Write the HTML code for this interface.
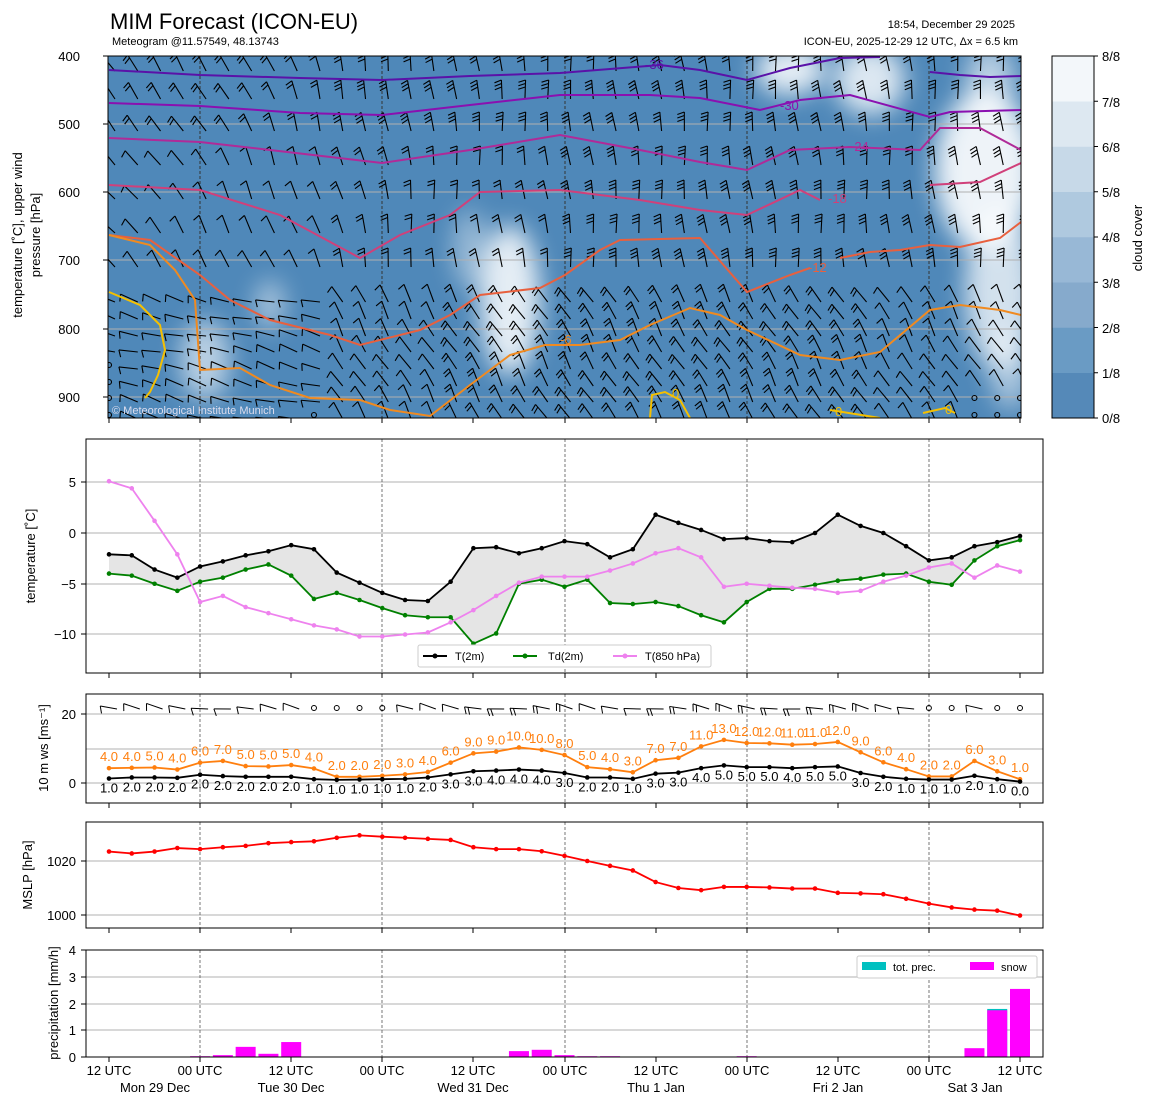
<!DOCTYPE html>
<html><head><meta charset="utf-8">
<style>
body{margin:0;background:#fff;}
svg{display:block;font-family:"Liberation Sans","DejaVu Sans",sans-serif;}
.t{font-size:13px;fill:#000}
</style></head><body>
<svg id="s" width="1155" height="1105" viewBox="0 0 1155 1105" xmlns="http://www.w3.org/2000/svg">
<defs>
<clipPath id="c1"><rect x="108" y="56" width="913" height="362"/></clipPath>
<filter id="bl" x="-50%" y="-50%" width="200%" height="200%"><feGaussianBlur stdDeviation="12"/></filter>
</defs>
<rect width="1155" height="1105" fill="#fff"/>
<text x="110" y="29" font-size="22">MIM Forecast (ICON-EU)</text>
<text x="112" y="45" font-size="11">Meteogram @11.57549, 48.13743</text>
<text x="1015" y="28" font-size="11" text-anchor="end">18:54, December 29 2025</text>
<text x="1018" y="45" font-size="11" text-anchor="end">ICON-EU, 2025-12-29 12 UTC, Δx = 6.5 km</text>

<!-- top panel -->
<g clip-path="url(#c1)">
<rect x="108" y="56" width="913" height="362" fill="#4f88b9"/>
<g filter="url(#bl)" fill="#fff">
<ellipse cx="205" cy="360" rx="25" ry="40" opacity="0.6"/>
<ellipse cx="270" cy="305" rx="15" ry="25" opacity="0.5"/>
<ellipse cx="510" cy="300" rx="30" ry="75" opacity="0.85"/>
<ellipse cx="470" cy="250" rx="18" ry="40" opacity="0.4"/>
<ellipse cx="790" cy="70" rx="35" ry="25" opacity="0.85"/>
<ellipse cx="870" cy="80" rx="35" ry="35" opacity="0.8"/>
<ellipse cx="990" cy="80" rx="25" ry="35" opacity="0.6"/>
<ellipse cx="985" cy="170" rx="50" ry="80" opacity="0.9"/>
<ellipse cx="1000" cy="290" rx="35" ry="80" opacity="0.75"/>
<ellipse cx="1010" cy="370" rx="20" ry="40" opacity="0.5"/>
</g>
<g stroke="#b0b0b0" stroke-width="1">
<line x1="108" y1="124" x2="1021" y2="124"/><line x1="108" y1="192" x2="1021" y2="192"/>
<line x1="108" y1="260" x2="1021" y2="260"/><line x1="108" y1="329" x2="1021" y2="329"/><line x1="108" y1="397" x2="1021" y2="397"/>
</g>
<g id="vl1" stroke="#333" stroke-dasharray="3,2" stroke-width="1"></g>
<g id="barbs" stroke="#000" stroke-width="1.1" fill="none"></g>
<g fill="none" stroke-width="2">
<polyline stroke="#5a12a8" points="109,70 200,75 300,78 382,80 470,76 560,73 660,65 700,70 747,80 790,68 840,58 880,57"/>
<polyline stroke="#5a12a8" points="930,72 960,75 990,77 1021,76"/>
<polyline stroke="#8a10b0" points="109,103 200,106 300,113 382,115 470,105 560,95 650,95 700,98 760,110 800,100 850,95 930,117 950,112 1021,110"/>
<polyline stroke="#b02a98" points="109,138 200,142 270,150 382,163 470,150 560,135 640,150 700,162 747,170 790,150 850,147 920,150 940,128 980,128 1021,150"/>
<polyline stroke="#d0407a" points="109,185 200,190 280,215 360,258 400,235 450,215 480,192 560,190 640,200 700,210 747,215 800,190 820,200"/>
<polyline stroke="#d0407a" points="930,185 980,182 1021,163"/>
<polyline stroke="#e8603e" points="109,235 150,240 200,275 230,300 270,320 330,335 360,345 420,330 450,315 480,295 540,288 565,275 600,250 620,240 700,238 747,292 790,275 810,268"/>
<polyline stroke="#e8603e" points="840,258 870,252 900,250 930,245 960,247 1000,238 1021,222"/>
<polyline stroke="#f08a20" points="109,235 150,245 175,270 195,300 200,370 240,368 270,385 310,398 360,400 390,410 430,416 470,385 510,355 545,345 580,345 620,340 650,325 690,308 720,315 747,330 800,355 840,360 880,352 930,310 960,305 1000,310 1021,315"/>
<polyline stroke="#f5c000" points="109,292 140,305 160,325 165,350 158,375 150,392 145,398"/>
<polyline stroke="#f5c000" points="650,418 652,395 665,392 680,400 690,418"/>
<polyline stroke="#f5c000" points="830,410 880,418"/>
<polyline stroke="#f5c000" points="923,413 945,408 955,413"/>
</g>
<g font-size="13">
<text x="645" y="69" fill="#5a12a8">-36</text>
<text x="780" y="110" fill="#8a10b0">-30</text>
<text x="850" y="151" fill="#b02a98">-24</text>
<text x="828" y="203" fill="#d0407a">-18</text>
<text x="808" y="272" fill="#e8603e">-12</text>
<text x="560" y="344" fill="#f08a20">-6</text>
<text x="672" y="398" fill="#f5c000">0</text>
<text x="835" y="416" fill="#f5c000">0</text>
<text x="945" y="414" fill="#f5c000">0</text>
</g>
<text x="112" y="414" font-size="11" fill="#dde">© Meteorological Institute Munich</text>
</g>
<rect x="108" y="56" width="913" height="362" fill="none" stroke="#000"/>
<g class="t" text-anchor="end">
<text x="80" y="61">400</text><text x="80" y="129">500</text><text x="80" y="197">600</text>
<text x="80" y="265">700</text><text x="80" y="334">800</text><text x="80" y="402">900</text>
</g>
<g stroke="#000"><line x1="103" y1="56" x2="108" y2="56"/><line x1="103" y1="124" x2="108" y2="124"/><line x1="103" y1="192" x2="108" y2="192"/><line x1="103" y1="260" x2="108" y2="260"/><line x1="103" y1="329" x2="108" y2="329"/><line x1="103" y1="397" x2="108" y2="397"/></g>
<text transform="translate(22,235) rotate(-90)" text-anchor="middle" class="t">temperature [˚C], upper wind</text>
<text transform="translate(40,235) rotate(-90)" text-anchor="middle" class="t">pressure [hPa]</text>
<!-- colorbar -->
<g id="cb"></g>
<rect x="1052" y="56" width="42" height="362" fill="none" stroke="#000"/>
<g class="t">
<text x="1102" y="61">8/8</text><text x="1102" y="107">7/8</text><text x="1102" y="152">6/8</text><text x="1102" y="197">5/8</text>
<text x="1102" y="242">4/8</text><text x="1102" y="288">3/8</text><text x="1102" y="333">2/8</text><text x="1102" y="378">1/8</text><text x="1102" y="423">0/8</text>
</g>
<g stroke="#000" id="cbt"></g>
<text transform="translate(1142,238) rotate(-90)" text-anchor="middle" class="t">cloud cover</text>

<!-- panel 2 -->
<g stroke="#b0b0b0"><line x1="86" y1="482" x2="1043" y2="482"/><line x1="86" y1="533" x2="1043" y2="533"/><line x1="86" y1="584" x2="1043" y2="584"/><line x1="86" y1="634" x2="1043" y2="634"/></g>
<g id="p2"></g>
<rect x="86" y="439" width="957" height="234" fill="none" stroke="#000"/>
<g class="t" text-anchor="end"><text x="76" y="487">5</text><text x="76" y="538">0</text><text x="76" y="589">−5</text><text x="76" y="639">−10</text></g>
<g stroke="#000"><line x1="81" y1="482" x2="86" y2="482"/><line x1="81" y1="533" x2="86" y2="533"/><line x1="81" y1="584" x2="86" y2="584"/><line x1="81" y1="634" x2="86" y2="634"/></g>
<text transform="translate(35,556) rotate(-90)" text-anchor="middle" class="t">temperature [˚C]</text>
<g font-size="11">
<rect x="418" y="645" width="293" height="22" fill="#fff" stroke="#ccc" rx="2"/>
<line x1="423" y1="656" x2="447" y2="656" stroke="#000" stroke-width="2"/><circle cx="435" cy="656" r="2.5"/>
<text x="455" y="660">T(2m)</text>
<line x1="513" y1="656" x2="537" y2="656" stroke="green" stroke-width="2"/><circle cx="525" cy="656" r="2.5" fill="green"/>
<text x="548" y="660">Td(2m)</text>
<line x1="613" y1="656" x2="637" y2="656" stroke="violet" stroke-width="2"/><circle cx="625" cy="656" r="2.5" fill="violet"/>
<text x="645" y="660">T(850 hPa)</text>
</g>

<!-- panel 3 -->
<g stroke="#b0b0b0"><line x1="86" y1="714" x2="1043" y2="714"/><line x1="86" y1="749" x2="1043" y2="749"/><line x1="86" y1="783" x2="1043" y2="783"/></g>
<g id="p3"></g>
<rect x="86" y="694" width="957" height="109" fill="none" stroke="#000"/>
<g class="t" text-anchor="end"><text x="76" y="719">20</text><text x="76" y="788">0</text></g>
<g stroke="#000"><line x1="81" y1="714" x2="86" y2="714"/><line x1="81" y1="783" x2="86" y2="783"/></g>
<text transform="translate(48,748) rotate(-90)" text-anchor="middle" class="t">10 m ws [ms⁻¹]</text>

<!-- panel 4 -->
<g stroke="#b0b0b0"><line x1="86" y1="861" x2="1043" y2="861"/><line x1="86" y1="915" x2="1043" y2="915"/></g>
<g id="p4"></g>
<rect x="86" y="822" width="957" height="106" fill="none" stroke="#000"/>
<g class="t" text-anchor="end"><text x="76" y="866">1020</text><text x="76" y="920">1000</text></g>
<g stroke="#000"><line x1="81" y1="861" x2="86" y2="861"/><line x1="81" y1="915" x2="86" y2="915"/></g>
<text transform="translate(32,875) rotate(-90)" text-anchor="middle" class="t">MSLP [hPa]</text>

<!-- panel 5 -->
<g stroke="#b0b0b0"><line x1="86" y1="977" x2="1043" y2="977"/><line x1="86" y1="1004" x2="1043" y2="1004"/><line x1="86" y1="1030" x2="1043" y2="1030"/></g>
<g id="p5"></g>
<rect x="86" y="950" width="957" height="107" fill="none" stroke="#000"/>
<g class="t" text-anchor="end"><text x="76" y="955">4</text><text x="76" y="982">3</text><text x="76" y="1009">2</text><text x="76" y="1035">1</text><text x="76" y="1062">0</text></g>
<g stroke="#000"><line x1="81" y1="950" x2="86" y2="950"/><line x1="81" y1="977" x2="86" y2="977"/><line x1="81" y1="1004" x2="86" y2="1004"/><line x1="81" y1="1030" x2="86" y2="1030"/><line x1="81" y1="1057" x2="86" y2="1057"/></g>
<text transform="translate(58,1003) rotate(-90)" text-anchor="middle" class="t">precipitation [mm/h]</text>
<g font-size="11">
<rect x="857" y="956" width="180" height="22" fill="#fff" stroke="#ccc" rx="2"/>
<rect x="862" y="962" width="24" height="8" fill="#00c0c0"/><text x="893" y="971">tot. prec.</text>
<rect x="970" y="962" width="24" height="8" fill="#ff00ff"/><text x="1001" y="971">snow</text>
</g>
<g class="t" text-anchor="middle">
<text x="109" y="1075">12 UTC</text><text x="200" y="1075">00 UTC</text><text x="291" y="1075">12 UTC</text><text x="382" y="1075">00 UTC</text>
<text x="473" y="1075">12 UTC</text><text x="565" y="1075">00 UTC</text><text x="656" y="1075">12 UTC</text><text x="747" y="1075">00 UTC</text>
<text x="838" y="1075">12 UTC</text><text x="929" y="1075">00 UTC</text><text x="1020" y="1075">12 UTC</text>
<text x="155" y="1092">Mon 29 Dec</text><text x="291" y="1092">Tue 30 Dec</text><text x="473" y="1092">Wed 31 Dec</text>
<text x="656" y="1092">Thu 1 Jan</text><text x="838" y="1092">Fri 2 Jan</text><text x="975" y="1092">Sat 3 Jan</text>
</g>
<g id="ticks" stroke="#000"></g>
</svg>
<script>
var NS="http://www.w3.org/2000/svg";
function el(p,n,a){var e=document.createElementNS(NS,n);for(var k in a)e.setAttribute(k,a[k]);p.appendChild(e);return e;}
function X(i){return 109+i*22.775;}
var g=function(id){return document.getElementById(id);};
// colorbar
var cols=["#5589b8","#6a9bc4","#86aacc","#98b8d6","#afc9df","#c7d9e8","#dde8f1","#f3f7fa"];
for(var i=0;i<8;i++)el(g("cb"),"rect",{x:1052,y:418-(i+1)*45.25,width:42,height:45.5,fill:cols[i]});
for(var i=0;i<=8;i++)el(g("cbt"),"line",{x1:1094,y1:418-i*45.25,x2:1098,y2:418-i*45.25});
var vx=[200,382,565,747,929];
vx.forEach(function(x){
 el(g("vl1"),"line",{x1:x,y1:56,x2:x,y2:418});
 [["p2",439,673],["p3",694,803],["p4",822,928],["p5",950,1057]].forEach(function(r){el(g(r[0]),"line",{x1:x,y1:r[1],x2:x,y2:r[2],stroke:"#555","stroke-width":0.8,"stroke-dasharray":"3,2"});});
});
[109,200,291,382,473,565,656,747,838,929,1020].forEach(function(x){
 [418,673,803,928,1057].forEach(function(y){el(g("ticks"),"line",{x1:x,y1:y,x2:x,y2:y+5});});
});
// barb: base (x,y), angle a (deg clockwise from up) of staff toward tip, n ticks
function barb(p,x,y,a,n,len){
 var r=a*Math.PI/180, dx=Math.sin(r), dy=-Math.cos(r);
 var tx=x+dx*len,ty=y+dy*len;
 el(p,"line",{x1:x,y1:y,x2:tx,y2:ty});
 var px=dy,py=-dx; // counterclockwise perpendicular
 for(var k=0;k<n;k++){
  var bx=tx-dx*k*3.5,by=ty-dy*k*3.5;
  el(p,"line",{x1:bx,y1:by,x2:bx+px*7-dx*2.5,y2:by+py*7-dy*2.5});
 }
}
var rows=[62,90,122,156,190,224,258,293,310,327,343,360,377,393,410];
var bg=g("barbs");
for(var r=0;r<rows.length;r++){
 for(var i=0;i<41;i++){
  var y=rows[r], x=X(i)+6;
  var low=y>280;
  if(low&&((i==0&&y>=360)||(i>=38&&y>=393)||(i==9&&y>=410))){el(bg,"circle",{cx:X(i),cy:y+5,r:2.5});continue;}
  var a,n;
  if(!low){
   var f=i/40;
   a=-40+35*Math.min(1,f*3)+8*Math.sin(i*0.7+r);
   n=1+Math.min(2,Math.floor(f*4+ (r<3?1:0)));
  } else {
   a=(i<10?-75:-30)+10*Math.sin(i*0.5+r);
   n=1+(i>14&&i<34?1:0);
  }
  barb(bg,x,y+9,a,n,19);
 }
}
function line(p,xs,ys,col,r){
 var pts=xs.map(function(x,i){return x+","+ys[i];}).join(" ");
 el(p,"polyline",{points:pts,fill:"none",stroke:col,"stroke-width":1.8});
 xs.forEach(function(x,i){el(p,"circle",{cx:x,cy:ys[i],r:r||2.3,fill:col});});
}
var T=[-2.1,-2.2,-3.6,-4.4,-3.3,-2.8,-2.2,-1.8,-1.2,-1.6,-3.9,-4.9,-5.9,-6.6,-6.7,-4.8,-1.5,-1.4,-2.0,-1.5,-0.8,-1.1,-2.4,-1.6,1.8,1.0,0.3,-0.6,-0.5,-0.8,-0.9,0.0,1.8,0.7,0.0,-1.3,-2.7,-2.4,-1.3,-0.9,-0.3];
var Td=[-4.0,-4.2,-5.0,-5.7,-4.8,-4.4,-3.6,-3.1,-4.2,-6.5,-5.9,-6.6,-7.4,-8.1,-8.3,-8.3,-10.9,-9.9,-5.0,-4.6,-5.3,-4.6,-6.9,-7.0,-6.8,-7.2,-8.1,-8.8,-6.8,-5.5,-5.5,-5.1,-4.7,-4.5,-4.1,-4.0,-4.8,-5.1,-2.7,-1.3,-0.7];
var T8=[5.1,4.4,1.2,-2.1,-6.8,-6.2,-7.3,-7.9,-8.5,-9.1,-9.5,-10.2,-10.2,-10.0,-9.8,-8.8,-7.6,-6.2,-4.9,-4.3,-4.3,-4.3,-3.7,-3.0,-2.0,-1.5,-2.4,-5.3,-5.0,-5.2,-5.4,-5.5,-5.9,-5.7,-4.8,-4.2,-3.4,-3.0,-4.4,-3.2,-3.8];
var xs=T.map(function(_,i){return X(i);});
function Y2(v){return 533-10.15*v;}
var poly=xs.map(function(x,i){return x+","+Y2(T[i]);}).concat(xs.slice().reverse().map(function(x,j){var i=40-j;return x+","+Y2(Td[i]);})).join(" ");
el(g("p2"),"polygon",{points:poly,fill:"#e5e5e5",stroke:"none"});
line(g("p2"),xs,T.map(Y2),"#000");
line(g("p2"),xs,Td.map(Y2),"green");
line(g("p2"),xs,T8.map(Y2),"violet");
var G=[4.3,4.4,4.5,3.9,5.9,6.4,4.9,4.8,5.2,4.2,1.8,1.8,2.1,2.5,3.2,5.9,8.6,9.1,10.3,9.6,8.1,4.6,4.0,3.1,6.6,7.3,10.6,12.5,11.6,11.5,11.1,11.3,11.9,8.9,6.0,4.0,1.9,1.9,6.4,3.4,1.1];
var W=[1.3,1.6,1.6,1.5,2.4,2.0,1.8,1.8,1.8,1.1,0.9,1.0,1.1,1.2,1.6,2.5,3.4,3.6,3.9,3.6,2.9,1.6,1.6,1.2,2.7,3.0,4.3,5.1,4.6,4.6,4.3,4.6,4.8,2.9,1.8,1.2,1.0,1.0,2.1,1.1,0.4];
var GL=[4,4,5,4,6,7,5,5,5,4,2,2,2,3,4,6,9,9,10,10,8,5,4,3,7,7,11,13,12,12,11,11,12,9,6,4,2,2,6,3,1];
var WL=[1,2,2,2,2,2,2,2,2,1,1,1,1,1,2,3,3,4,4,4,3,2,2,1,3,3,4,5,5,5,4,5,5,3,2,1,1,1,2,1,0];
function Y3(v){return 783-3.45*v;}
var p3=g("p3");
line(p3,xs,G.map(Y3),"#ff7f0e");
line(p3,xs,W.map(Y3),"#000");
xs.forEach(function(x,i){
 var t=el(p3,"text",{x:x,y:Y3(G[i])-7,"text-anchor":"middle","font-size":13,fill:"#ff7f0e"});t.textContent=GL[i].toFixed(1);
 var t2=el(p3,"text",{x:x,y:Y3(W[i])+14,"text-anchor":"middle","font-size":13,fill:"#000"});t2.textContent=WL[i].toFixed(1);
 var gb=el(p3,"g",{stroke:"#000","stroke-width":1,fill:"none"});
 if(W[i]<1.15&&i>8){el(gb,"circle",{cx:x,cy:708,r:2.5});}
 else barb(gb,x+8,709,-80+10*Math.sin(i),1+(W[i]>2.5?1:0),17);
});
var P=[1023.5,1022.8,1023.5,1024.8,1024.4,1025.1,1025.6,1026.6,1027.0,1027.3,1028.6,1029.5,1029.0,1028.6,1028.2,1027.8,1025.1,1024.4,1024.4,1023.6,1021.9,1020.0,1018.2,1016.5,1012.2,1010.0,1009.2,1010.4,1010.4,1010.2,1009.8,1009.8,1008.2,1008.0,1007.7,1006.0,1004.2,1002.8,1002.0,1001.6,999.8];
line(g("p4"),xs,P.map(function(v){return 915-2.7*(v-1000);}),"red");
var S={4:0.03,5:0.07,6:0.38,7:0.12,8:0.56,18:0.22,19:0.27,20:0.07,21:0.03,22:0.03,28:0.03,38:0.33,39:1.75,40:2.55};
for(var k in S){var v=S[k],x=X(+k);
 if(k==39)el(g("p5"),"rect",{x:x-10,y:1057-26.7*1.8,width:20,height:26.7*1.8,fill:"#00c0c0"});
 el(g("p5"),"rect",{x:x-10,y:1057-26.7*v,width:20,height:26.7*v,fill:"#ff00ff"});}
</script>
</body></html>
